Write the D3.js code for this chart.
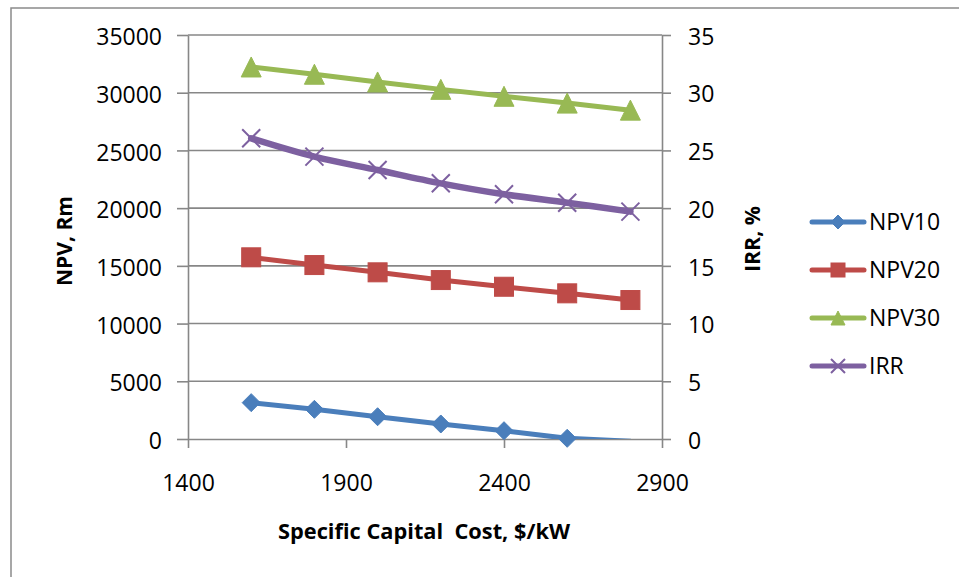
<!DOCTYPE html>
<html>
<head>
<meta charset="utf-8">
<script src="https://cdn.jsdelivr.net/npm/d3@7/dist/d3.min.js"></script>
<style>
  html, body { margin: 0; padding: 0; background: #fff; }
  svg { display: block; }
</style>
</head>
<body>
<svg id="chart" width="959" height="577"></svg>
<script>
// ---- data ----
const capitalCost = [1600, 1800, 2000, 2200, 2400, 2600, 2800];
const npv10 = [3150, 2570, 1930, 1300, 720, 60, -200];
const npv20 = [15740, 15070, 14440, 13770, 13190, 12620, 12040];
const npv30 = [32230, 31600, 30930, 30290, 29690, 29100, 28490];
const irr = [26.05, 24.46, 23.3, 22.15, 21.2, 20.47, 19.7];
const xTicks = [1400, 1900, 2400, 2900];
const yLeftTicks = [0, 5000, 10000, 15000, 20000, 25000, 30000, 35000];
const yRightTicks = [0, 5, 10, 15, 20, 25, 30, 35];
const seriesNames = ["NPV10", "NPV20", "NPV30", "IRR"];

// ---- layout ----
const svg = d3.select("#chart");
const plot = { left: 188, right: 662, top: 35, bottom: 439 };
const gridColor = "#878787";
const font = "'Open Sans', 'Liberation Sans', sans-serif";
const colors = { NPV10: "#4A7EBB", NPV20: "#BE4B48", NPV30: "#98B954", IRR: "#7D60A0" };

const x = d3.scaleLinear().domain([1400, 2900]).range([plot.left, plot.right]);
const yL = d3.scaleLinear().domain([0, 35000]).range([plot.bottom, plot.top]);
const yR = d3.scaleLinear().domain([0, 35]).range([plot.bottom, plot.top]);

// outer frame
svg.append("rect").attr("x", 11).attr("y", 8).attr("width", 980).attr("height", 620)
  .attr("fill", "none").attr("stroke", "#8a8a8a").attr("stroke-width", 1.5);

// gridlines
svg.append("g").selectAll("line").data(yLeftTicks.filter(d => d > 0)).join("line")
  .attr("x1", plot.left).attr("x2", plot.right)
  .attr("y1", d => yL(d)).attr("y2", d => yL(d))
  .attr("stroke", gridColor).attr("stroke-width", 1.6);

// axes
const axisStyle = g => {
  g.select(".domain").attr("stroke", gridColor).attr("stroke-width", 1.6);
  g.selectAll(".tick line").attr("stroke", gridColor).attr("stroke-width", 1.6);
  g.selectAll(".tick text").attr("fill", "#000").style("font-family", font).style("font-size", "23px");
};

const gx = svg.append("g").attr("transform", `translate(0,${plot.bottom})`)
  .call(d3.axisBottom(x).tickValues(xTicks).tickSize(9).tickPadding(0).tickSizeOuter(0).tickFormat(d3.format("d")));
axisStyle(gx);
gx.selectAll(".tick text").attr("dy", null).attr("y", 52);

const gl = svg.append("g").attr("transform", `translate(${plot.left},0)`)
  .call(d3.axisLeft(yL).tickValues(yLeftTicks).tickSize(11).tickSizeOuter(0).tickFormat(d3.format("d")));
axisStyle(gl);
gl.selectAll(".tick text").attr("dy", null).attr("x", -26).attr("y", 9.7);

const gr = svg.append("g").attr("transform", `translate(${plot.right},0)`)
  .call(d3.axisRight(yR).tickValues(yRightTicks).tickSize(9).tickSizeOuter(0).tickFormat(d3.format("d")));
axisStyle(gr);
gr.selectAll(".tick text").attr("dy", null).attr("x", 26).attr("y", 9.2);

// clip for series lines
svg.append("clipPath").attr("id", "plotclip").append("rect")
  .attr("x", plot.left - 20).attr("y", 0).attr("width", plot.right - plot.left + 40).attr("height", plot.bottom);

const series = [
  { name: "NPV10", values: npv10, y: yL, width: 5, marker: "diamond", curve: d3.curveLinear },
  { name: "NPV20", values: npv20, y: yL, width: 5, marker: "square", curve: d3.curveLinear },
  { name: "NPV30", values: npv30, y: yL, width: 5, marker: "triangle", curve: d3.curveLinear },
  { name: "IRR", values: irr, y: yR, width: 6.5, marker: "x", curve: d3.curveCatmullRom.alpha(0.5) }
];

function drawMarker(g, type, cx, cy, color, s) {
  if (type === "diamond") {
    g.append("path").attr("d", `M${cx},${cy - s}L${cx + s},${cy}L${cx},${cy + s}L${cx - s},${cy}Z`)
      .attr("fill", color).attr("stroke", color).attr("stroke-width", 1);
  } else if (type === "square") {
    g.append("rect").attr("x", cx - s).attr("y", cy - s).attr("width", 2 * s).attr("height", 2 * s)
      .attr("fill", color).attr("stroke", color).attr("stroke-width", 1);
  } else if (type === "triangle") {
    g.append("path").attr("d", `M${cx},${cy - s}L${cx + s},${cy + s}L${cx - s},${cy + s}Z`)
      .attr("fill", color).attr("stroke", color).attr("stroke-width", 1);
  } else {
    g.append("path").attr("d", `M${cx - s},${cy - s}L${cx + s},${cy + s}M${cx - s},${cy + s}L${cx + s},${cy - s}`)
      .attr("fill", "none").attr("stroke", color).attr("stroke-width", 2);
  }
}

const markerSize = { diamond: 9, square: 9.5, triangle: 10, x: 9 };

series.forEach(s => {
  const pts = capitalCost.map((c, i) => [c, s.values[i]]);
  const line = d3.line().x(d => x(d[0])).y(d => s.y(d[1])).curve(s.curve);
  svg.append("path").attr("d", line(pts)).attr("fill", "none")
    .attr("stroke", colors[s.name]).attr("stroke-width", s.width)
    .attr("stroke-linejoin", "round").attr("stroke-linecap", "round")
    .attr("clip-path", "url(#plotclip)");
  const mg = svg.append("g");
  pts.filter(d => d[1] >= 0).forEach(d => drawMarker(mg, s.marker, x(d[0]), s.y(d[1]), colors[s.name], markerSize[s.marker]));
});

// axis titles
svg.append("text").text("Specific Capital  Cost, $/kW")
  .attr("x", 424).attr("y", 539).attr("text-anchor", "middle")
  .attr("textLength", 292).attr("lengthAdjust", "spacingAndGlyphs")
  .style("font-family", font).style("font-weight", "bold").style("font-size", "22px").style("white-space", "pre");

svg.append("text").text("NPV, Rm")
  .attr("transform", "translate(72,241) rotate(-90)").attr("text-anchor", "middle")
  .attr("textLength", 90).attr("lengthAdjust", "spacingAndGlyphs")
  .style("font-family", font).style("font-weight", "bold").style("font-size", "22px");

svg.append("text").text("IRR, %")
  .attr("transform", "translate(760,239) rotate(-90)").attr("text-anchor", "middle")
  .attr("textLength", 66).attr("lengthAdjust", "spacingAndGlyphs")
  .style("font-family", font).style("font-weight", "bold").style("font-size", "22px");

// legend
const legendY = [222, 270, 318, 366];
series.forEach((s, i) => {
  const g = svg.append("g");
  const cy = legendY[i];
  g.append("line").attr("x1", 812).attr("x2", 864).attr("y1", cy).attr("y2", cy)
    .attr("stroke", colors[s.name]).attr("stroke-width", 5).attr("stroke-linecap", "round");
  drawMarker(g, s.marker, 838, cy, colors[s.name], 7);
  g.append("text").text(seriesNames[i]).attr("x", 869).attr("y", cy + 8.2)
    .style("font-family", font).style("font-size", "23px").attr("fill", "#000");
});
</script>
</body>
</html>
